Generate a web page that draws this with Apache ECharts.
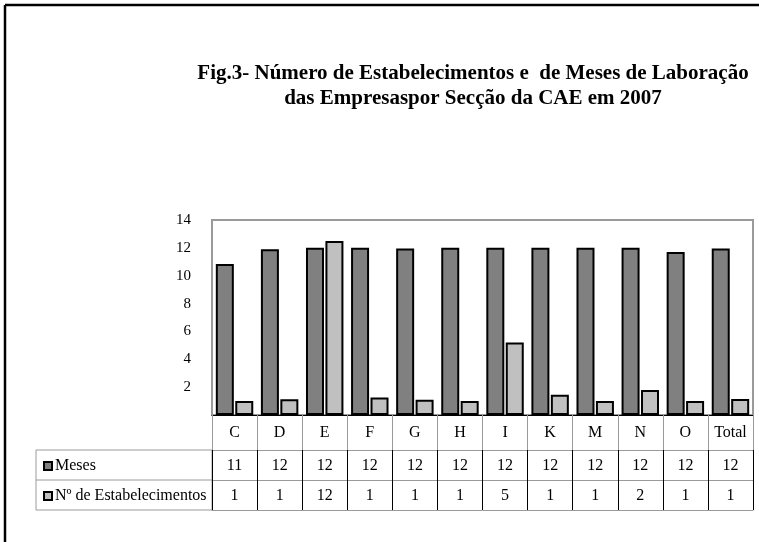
<!DOCTYPE html>
<html>
<head>
<meta charset="utf-8">
<script src="https://cdn.jsdelivr.net/npm/echarts@6/dist/echarts.min.js"></script>
<style>
    html, body { margin: 0; padding: 0; background: #fff; }
    #main { width: 759px; height: 542px; }
</style>
</head>
<body>
<div id="main"></div>
<script>
// dados
var categorias = ['C', 'D', 'E', 'F', 'G', 'H', 'I', 'K', 'M', 'N', 'O', 'Total'];
var meses = [10.85, 11.9, 12, 12, 11.95, 12, 12, 12, 12, 12, 11.7, 11.95];
var estabelecimentos = [1.0, 1.13, 12.5, 1.25, 1.1, 1.0, 5.2, 1.45, 1.0, 1.8, 1.0, 1.15];
// valores da tabela (arredondados)
var mesesTabela = ['11', '12', '12', '12', '12', '12', '12', '12', '12', '12', '12', '12'];
var estabTabela = ['1', '1', '12', '1', '1', '1', '5', '1', '1', '2', '1', '1'];
var yTicks = [0, 14, 2];

var serif = '"Liberation Serif", "Times New Roman", serif';

var myChart = echarts.init(document.getElementById('main'));

function linhaTabela(dados, offset, tickLen, tickColor, lineColor, showLabel) {
    return {
        type: 'category',
        position: 'bottom',
        offset: offset,
        data: dados,
        axisLine: { show: true, lineStyle: { color: lineColor, width: 1 } },
        axisTick: {
            show: tickLen > 0,
            length: tickLen,
            alignWithLabel: false,
            lineStyle: { color: tickColor, width: 1 }
        },
        axisLabel: {
            show: showLabel,
            interval: 0,
            margin: offset === 0 ? 10 : 8,
            color: '#000',
            fontFamily: serif,
            fontSize: 16
        },
        splitLine: { show: false }
    };
}

option = {
    animation: false,
    backgroundColor: '#fff',
    title: {
        text: 'Fig.3- Número de Estabelecimentos e  de Meses de Laboração\ndas Empresaspor Secção da CAE em 2007',
        left: 468,
        top: 56,
        textAlign: 'center',
        textStyle: {
            fontFamily: serif,
            fontWeight: 'bold',
            fontSize: 21,
            lineHeight: 25,
            color: '#000'
        }
    },
    legend: {
        orient: 'vertical',
        left: 38,
        top: 453,
        itemWidth: 8,
        itemHeight: 8,
        itemGap: 14,
        icon: 'rect',
        textStyle: { fontFamily: serif, fontSize: 16, color: '#000', padding: [0, 0, 0, -2] },
        data: ['Meses', 'Nº de Estabelecimentos']
    },
    grid: {
        left: 212,
        right: 6,
        top: 220,
        bottom: 127,
        show: true,
        borderColor: '#9a9a9a',
        borderWidth: 2
    },
    xAxis: [
        linhaTabela(categorias, 0, 35, '#9a9a9a', '#000', true),
        linhaTabela(mesesTabela, 35, 30, '#000', '#9a9a9a', true),
        linhaTabela(estabTabela, 65, 30, '#000', '#9a9a9a', true),
        linhaTabela(categorias, 95, 0, '#000', '#9a9a9a', false)
    ],
    yAxis: {
        type: 'value',
        min: yTicks[0],
        max: yTicks[1],
        interval: yTicks[2],
        axisLine: { show: true, lineStyle: { color: '#9a9a9a', width: 2 } },
        axisTick: { show: false },
        splitLine: { show: false },
        axisLabel: {
            margin: 21,
            color: '#000',
            fontFamily: serif,
            fontSize: 15,
            formatter: function (v) { return v === 0 ? '' : v; }
        }
    },
    series: [
        {
            name: 'Meses',
            type: 'bar',
            data: meses,
            barWidth: 18,
            barGap: '8%',
            itemStyle: { color: '#808080', borderColor: '#000', borderWidth: 2 }
        },
        {
            name: 'Nº de Estabelecimentos',
            type: 'bar',
            data: estabelecimentos,
            barWidth: 18,
            itemStyle: { color: '#c0c0c0', borderColor: '#000', borderWidth: 2 }
        }
    ],
    graphic: [
        // moldura da página
        { type: 'line', shape: { x1: 5, y1: 5, x2: 759, y2: 5 }, style: { stroke: '#000', lineWidth: 2.5 } },
        { type: 'line', shape: { x1: 5, y1: 5, x2: 5, y2: 542 }, style: { stroke: '#000', lineWidth: 2.5 } },
        // coluna da legenda da tabela
        { type: 'rect', shape: { x: 36, y: 450, width: 176, height: 60 }, style: { fill: 'none', stroke: '#9a9a9a', lineWidth: 1 } },
        { type: 'line', shape: { x1: 36, y1: 480, x2: 212, y2: 480 }, style: { stroke: '#9a9a9a', lineWidth: 1 } }
    ]
};
myChart.setOption(option);
</script>
</body>
</html>
